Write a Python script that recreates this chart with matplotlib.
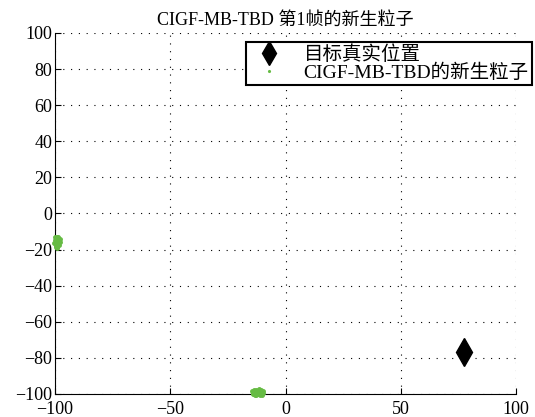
import numpy as np
import matplotlib.pyplot as plt

plt.rcParams['font.family'] = ['Liberation Serif', 'Noto Sans CJK SC']
plt.rcParams['axes.unicode_minus'] = True

# 目标真实位置
target_x = [77.3]
target_y = [-77.0]

# 新生粒子 (两个簇)
birth_x = [-99.8, -99.2, -98.6, -98.0, -99.5, -98.9, -98.3, -97.7, -99.9, -99.3,
           -98.7, -98.1, -99.6, -99.0, -98.4, -99.7, -99.1, -98.5, -99.4, -98.8,
           -100.2, -100.5, -98.2, -99.0, -99.5,
           -14.5, -13.8, -13.0, -12.2, -11.4, -10.6, -9.8, -14.0, -13.2, -12.4,
           -11.6, -10.8, -10.0, -13.6, -12.8, -12.0, -11.2, -10.4, -14.2, -9.6,
           -13.4, -12.6, -11.8, -11.0, -10.2]
birth_y = [-12.8, -13.2, -13.6, -14.2, -14.6, -15.0, -15.4, -15.9, -16.2, -16.6,
           -17.0, -17.4, -17.9, -18.3, -15.2, -13.8, -14.4, -16.8, -15.6, -13.0,
           -14.9, -16.4, -14.8, -19.0, -18.6,
           -98.6, -98.0, -97.6, -98.2, -97.5, -98.0, -98.4, -99.2, -98.8, -99.0,
           -98.6, -99.3, -99.0, -99.8, -99.6, -99.9, -99.7, -99.5, -99.8, -99.6,
           -100.3, -100.4, -100.2, -100.5, -100.3]

fig = plt.figure(figsize=(5.35, 4.17), dpi=100)
ax = fig.add_axes([0.1028, 0.0552, 0.8617, 0.8657])

ax.plot(target_x, target_y, 'kd', markersize=14, label='目标真实位置',
        clip_on=False, zorder=3)
ax.plot(birth_x, birth_y, '.', color='#66bb44', markersize=5,
        label='CIGF-MB-TBD的新生粒子', clip_on=False, zorder=3)

ax.set_xlim(-100, 100)
ax.set_ylim(-100, 100)
ax.set_xticks(np.arange(-100, 101, 50))
ax.set_yticks(np.arange(-100, 101, 20))
ax.grid(True, color='black', linestyle=(0, (1, 6)), linewidth=0.8)
ax.spines['top'].set_visible(False)
ax.spines['right'].set_visible(False)
ax.tick_params(direction='in', length=4, labelsize=13, width=0.8)
ax.tick_params(axis='y', pad=2)
ax.tick_params(axis='x', pad=5)
ax.set_title('CIGF-MB-TBD 第1帧的新生粒子', fontsize=13, pad=6)

leg = ax.legend(loc='upper left', bbox_to_anchor=(0.415, 0.975), fontsize=14,
                frameon=True, fancybox=False, borderpad=0.15, labelspacing=0.0,
                handletextpad=0.8, borderaxespad=0, markerscale=1.0)
leg.get_frame().set_edgecolor('black')
leg.get_frame().set_linewidth(1.5)
leg.get_frame().set_alpha(1)
leg.legend_handles[0].set_markersize(12)
leg.legend_handles[1].set_markersize(2.5)

fig.savefig('out.png', dpi=100)
